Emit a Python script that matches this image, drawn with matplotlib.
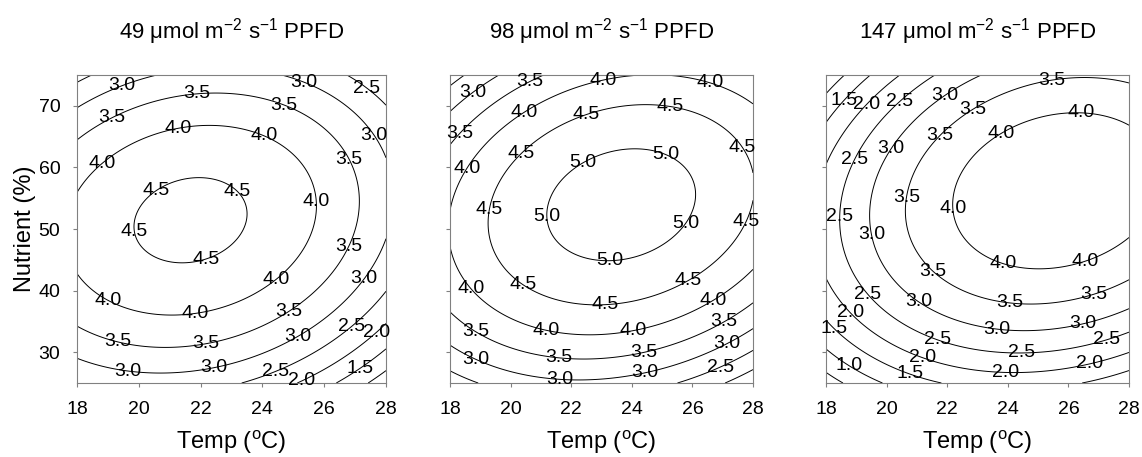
import numpy as np
import matplotlib
matplotlib.use("Agg")
import matplotlib.pyplot as plt

plt.rcParams['font.family'] = ['Liberation Sans', 'DejaVu Sans']
plt.rcParams['mathtext.fontset'] = 'custom'
plt.rcParams['mathtext.rm'] = 'Liberation Sans'
plt.rcParams['mathtext.it'] = 'Liberation Sans:italic'
plt.rcParams['mathtext.bf'] = 'Liberation Sans:bold'

# light levels (PPFD) of the three panels
ppfd = [49, 98, 147]

# fitted response surfaces, z = b0 + b1*T + b2*N + b3*T^2 + b4*N^2 + b5*T*N
# (T = temperature in oC, N = nutrient in %)
coef_49 = [-17.245, 1.5157, 0.2118, -0.038587, -0.0027026, 0.0030523]
coef_98 = [-19.949, 1.6363, 0.21607, -0.038994, -0.002849, 0.0038586]
coef_147 = [-24.928, 1.7874, 0.23007, -0.038988, -0.0029067, 0.0037702]

temp_range = [18, 28]
nutr_range = [25, 75]
levels = np.arange(0.5, 5.01, 0.5)

temp_ticks = [18, 20, 22, 24, 26, 28]
nutr_ticks = [30, 40, 50, 60, 70]

# where the contour labels go (temp, nutrient)
lab_49 = [(19.50, 72.46), (21.87, 71.48), (25.32, 73.65), (27.37, 72.84), (19.18, 67.42),
          (21.28, 65.80), (24.68, 69.86), (24.03, 64.88), (27.54, 64.99), (18.85, 60.39),
          (26.67, 60.93), (20.58, 56.06), (23.17, 56.06), (25.65, 54.44), (19.82, 49.57),
          (26.67, 47.40), (22.14, 45.51), (24.35, 42.26), (27.21, 42.26), (19.01, 38.47),
          (21.82, 36.85), (24.79, 37.12), (26.73, 34.96), (27.54, 34.15), (19.34, 31.98),
          (22.14, 31.98), (25.05, 33.33), (19.66, 27.38), (22.41, 28.19), (24.35, 27.65),
          (25.16, 26.57), (27.05, 28.19)]
lab_98 = [(18.75, 72.02), (20.64, 73.92), (23.06, 74.19), (26.58, 73.65), (18.33, 65.53),
          (20.42, 69.05), (22.46, 68.78), (25.26, 69.86), (18.53, 59.85), (20.37, 62.28),
          (22.40, 60.66), (25.10, 62.01), (27.63, 63.10), (19.32, 53.08), (21.19, 52.00),
          (25.76, 50.92), (27.77, 51.19), (23.28, 44.97), (18.66, 40.10), (20.42, 40.91),
          (25.87, 41.45), (23.12, 37.66), (26.69, 38.47), (18.86, 33.33), (21.19, 33.60),
          (24.05, 33.60), (27.08, 34.69), (18.86, 28.73), (21.61, 29.27), (24.38, 30.09),
          (27.13, 31.44), (26.91, 27.65), (21.63, 25.49), (24.44, 26.57)]
lab_147 = [(18.52, 71.21), (19.32, 70.40), (20.39, 70.94), (21.85, 72.02), (22.81, 69.86),
           (25.45, 74.73), (26.44, 69.43), (21.71, 65.42), (23.69, 66.07), (20.06, 63.26),
           (18.88, 61.47), (20.55, 55.25), (22.04, 53.35), (18.35, 52.00), (19.45, 49.03),
           (21.43, 42.53), (23.80, 43.61), (26.60, 44.16), (19.32, 39.12), (20.99, 37.66),
           (24.07, 37.50), (26.88, 39.01), (18.74, 36.04), (18.19, 33.33), (21.65, 31.44),
           (23.63, 33.33), (26.49, 34.14), (27.26, 31.71), (21.16, 28.73), (24.46, 29.55),
           (26.71, 27.92), (18.74, 27.65), (20.77, 26.57), (23.91, 26.30)]

coefs = [coef_49, coef_98, coef_147]
labels = [lab_49, lab_98, lab_147]

W, H = 1142, 457
fig = plt.figure(figsize=(W / 100, H / 100), dpi=100)
# axes boxes in pixels: left, right
boxes = [(77, 386), (450, 753), (826, 1129)]
top, bottom = 75, 383

T, N = np.meshgrid(np.linspace(temp_range[0], temp_range[1], 301),
                   np.linspace(nutr_range[0], nutr_range[1], 301))

grey = '#808080'
for i in range(3):
    l, r = boxes[i]
    ax = fig.add_axes([l / W, 1 - bottom / H, (r - l) / W, (bottom - top) / H])
    b = coefs[i]
    Z = b[0] + b[1] * T + b[2] * N + b[3] * T ** 2 + b[4] * N ** 2 + b[5] * T * N
    cs = ax.contour(T, N, Z, levels=levels, colors='k', linewidths=0.7)
    ax.clabel(cs, levels=cs.levels, inline=False, fontsize=14, fmt='%.1f',
              manual=labels[i])
    # labels sit upright and may spill over the frame
    for t in cs.labelTexts:
        t.set_rotation(0)
        t.set_clip_on(False)

    ax.set_xlim(temp_range)
    ax.set_ylim(nutr_range)
    ax.set_xticks(temp_ticks)
    ax.set_yticks(nutr_ticks)
    for s in ax.spines.values():
        s.set_color(grey)
        s.set_linewidth(0.8)
    ax.tick_params(direction='out', length=3, width=0.8, color=grey,
                   labelsize=14, pad=10)
    ax.tick_params(axis='y', pad=9)
    if i > 0:
        ax.set_yticklabels([])
    else:
        ax.set_ylabel('Nutrient (%)', fontsize=17, labelpad=2)
    ax.set_xlabel(r'Temp ($^{\mathrm{o}}$C)', fontsize=17, labelpad=8)
    ax.set_title('%d \u03bcmol m$^{-2}$ s$^{-1}$ PPFD' % ppfd[i], fontsize=16, pad=26)

fig.savefig('out.png', dpi=100)
